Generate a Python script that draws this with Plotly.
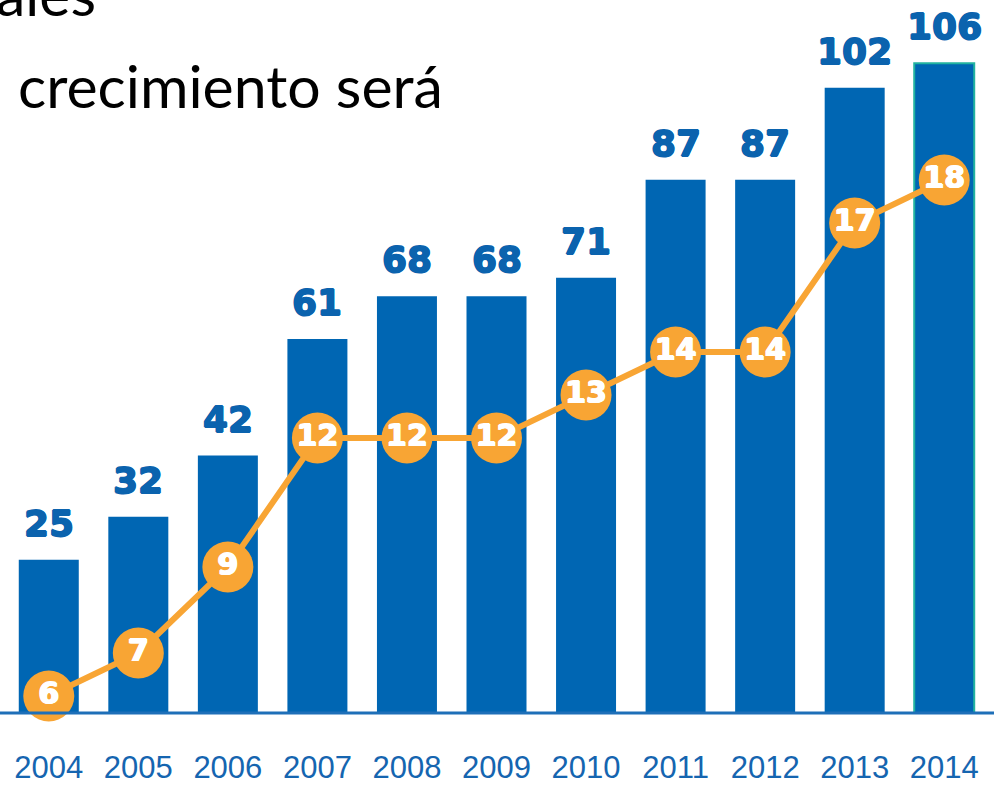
import plotly.graph_objects as go

years = ["2004", "2005", "2006", "2007", "2008", "2009", "2010", "2011", "2012", "2013", "2014"]
bar_values = [25, 32, 42, 61, 68, 68, 71, 87, 87, 102, 106]
line_values = [6, 7, 9, 12, 12, 12, 13, 14, 14, 17, 18]

BLUE = "#0066B3"
LABEL_BLUE = "#0B63AE"
ORANGE = "#F8A534"
TEAL = "#22B3A0"

W, H = 994, 785
ml, mr, mt, mb = 4, 5, 0, 72
plot_w = W - ml - mr
plot_h = H - mt - mb

def px_x(px):
    return (px - ml) / plot_w

def px_y(px):
    return 1 - (px - mt) / plot_h

def thick(c):
    return f"0.8px 0 0 {c}, -0.8px 0 0 {c}, 0 0.6px 0 {c}, 0 -0.6px 0 {c}"

fig = go.Figure()

fig.add_trace(go.Bar(
    x=years, y=bar_values,
    marker=dict(color=BLUE,
                line=dict(color=[BLUE] * (len(years) - 1) + [TEAL],
                          width=[0] * (len(years) - 1) + [2])),
    width=0.67,
    hoverinfo="skip",
))

fig.add_trace(go.Scatter(
    x=years, y=line_values, yaxis="y2",
    mode="lines+markers+text",
    line=dict(color=ORANGE, width=6),
    marker=dict(color=ORANGE, size=51, line=dict(width=0)),
    text=[str(v) for v in line_values],
    textposition="middle center",
    textfont=dict(family="DejaVu Sans", size=30, color="white", weight="bold",
                  shadow=thick("white")),
    cliponaxis=False,
    hoverinfo="skip",
))

for i, v in enumerate(bar_values):
    fig.add_annotation(
        x=i, y=v, xref="x", yref="y",
        text=f"<b>{v}</b>", showarrow=False,
        yanchor="bottom", yshift=14,
        font=dict(family="DejaVu Sans", size=36, color=LABEL_BLUE,
                  shadow=thick(LABEL_BLUE)),
    )

fig.add_annotation(
    xref="paper", yref="paper", x=px_x(16), y=px_y(86),
    text="crecimiento será", showarrow=False, xanchor="left", yanchor="middle",
    font=dict(family="Lato, Open Sans", size=59, color="black"),
)
fig.add_annotation(
    xref="paper", yref="paper", x=px_x(-6), y=px_y(-7),
    text="ales", showarrow=False, xanchor="left", yanchor="middle",
    font=dict(family="Lato, Open Sans", size=59, color="black"),
)

fig.add_shape(
    type="line", xref="paper", yref="paper",
    x0=px_x(0), x1=px_x(W), y0=0, y1=0,
    line=dict(color="#1E6FB8", width=3), layer="above",
)

bar_top = 713 / 6.13
fig.update_layout(
    width=W, height=H,
    margin=dict(l=ml, r=mr, t=mt, b=mb, pad=0),
    paper_bgcolor="white", plot_bgcolor="white",
    showlegend=False,
    xaxis=dict(type="category", range=[-0.5, 10.5], showgrid=False, zeroline=False,
               showline=False, ticks="", ticklabelstandoff=33,
               tickfont=dict(family="Liberation Sans, Arial", size=31, color="#1565B0")),
    yaxis=dict(range=[0, bar_top], showticklabels=False, ticks="", showgrid=False,
               zeroline=False, showline=False),
    yaxis2=dict(range=[(954 - 713) / 43, 954 / 43], overlaying="y", side="right",
                showticklabels=False, ticks="", showgrid=False, zeroline=False, showline=False),
)

fig.write_html("out.html", config={"displayModeBar": False},
               post_script="document.body.style.margin='0';")
